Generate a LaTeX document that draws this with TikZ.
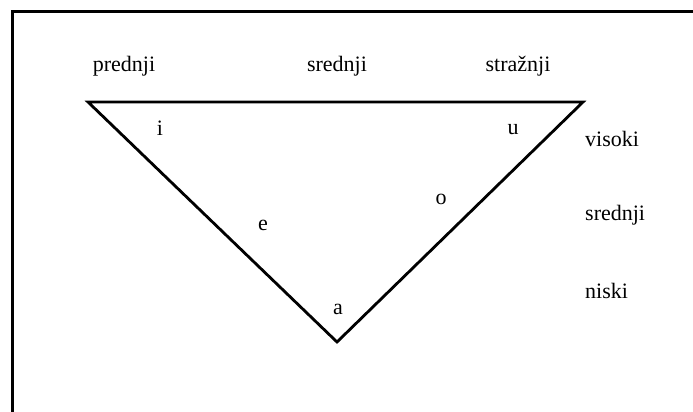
\documentclass[tikz,border=0pt]{standalone}
\usepackage{fontspec}
\setmainfont{Liberation Serif}
\begin{document}
\begin{tikzpicture}[x=1pt,y=-1pt,every node/.style={font=\fontsize{22}{26}\selectfont,inner sep=0pt}]
    \useasboundingbox (0,0) rectangle (693,412);
    % frame (only top and left edges show)
    \draw[line width=3pt] (693,11.5) -- (12.5,11.5) -- (12.5,412);
    % vowel triangle
    \coordinate (front) at (88,102);
    \coordinate (back) at (583,102);
    \coordinate (low) at (337,342);
    \draw[line width=2.8pt,line join=miter] (front) -- (back) -- (low) -- cycle;
    % columns
    \node (prednji) at (124,66) {prednji};
    \node (srednjiTop) at (337,66) {srednji};
    \node (straznji) at (518,66) {stražnji};
    % rows
    \node[anchor=west] (visoki) at (585,139) {visoki};
    \node[anchor=west] (srednjiRow) at (585,215) {srednji};
    \node[anchor=west] (niski) at (585,291) {niski};
    % vowels
    \node (i) at (160,128) {i};
    \node (u) at (513,130) {u};
    \node (e) at (263,225) {e};
    \node (o) at (441,199) {o};
    \node (a) at (338,309) {a};
\end{tikzpicture}
\end{document}
